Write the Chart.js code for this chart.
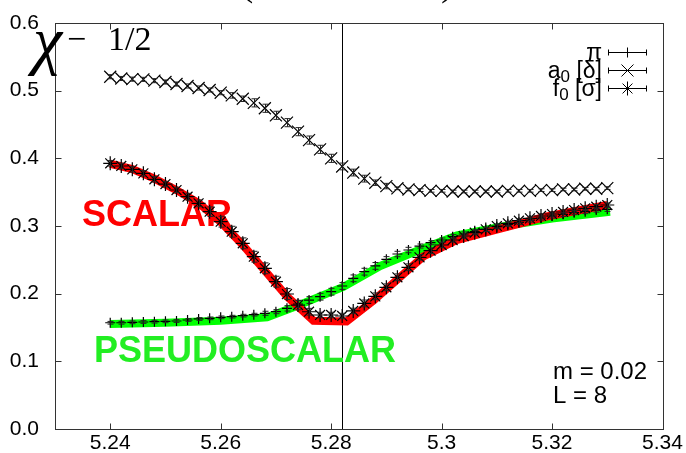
<!DOCTYPE html>
<html><head><meta charset="utf-8">
<script src="https://cdn.jsdelivr.net/npm/chart.js@4.4.1/dist/chart.umd.min.js"></script>
<style>html,body{margin:0;padding:0;background:#fff;}canvas{display:block;}</style>
</head><body>
<canvas id="c" width="686" height="453"></canvas>
<script>
const beta = [5.240,5.242,5.244,5.246,5.248,5.250,5.252,5.254,5.256,5.258,
              5.260,5.262,5.264,5.266,5.268,5.270,5.272,5.274,5.276,5.278,
              5.280,5.282,5.284,5.286,5.288,5.290,5.292,5.294,5.296,5.298,
              5.300,5.302,5.304,5.306,5.308,5.310,5.312,5.314,5.316,5.318,
              5.320,5.322,5.324,5.326,5.328,5.330];
const piVals = [0.157,0.157,0.1576,0.1581,0.1586,0.1591,0.1596,0.1611,0.1626,0.1635,
                0.165,0.166,0.1675,0.169,0.171,0.1734,0.1783,0.1847,0.1906,0.1955,
                0.2029,0.2113,0.2227,0.2325,0.241,0.2507,0.2586,0.2645,0.2704,0.2753,
                0.2793,0.2842,0.2882,0.2916,0.295,0.299,0.3025,0.3054,0.3088,0.3118,
                0.3148,0.3172,0.3197,0.3212,0.3236,0.3246];
const piErr = [0.002,0.002,0.002,0.002,0.002,0.002,0.002,0.002,0.002,0.002,
               0.002,0.002,0.002,0.002,0.003,0.003,0.004,0.005,0.005,0.005,
               0.005,0.005,0.005,0.005,0.005,0.004,0.004,0.004,0.003,0.003,
               0.003,0.003,0.003,0.003,0.003,0.003,0.003,0.003,0.003,0.003,
               0.003,0.003,0.003,0.003,0.003,0.003];
const a0Vals = [0.5206,0.518,0.517,0.5167,0.5148,0.5128,0.5098,0.5069,0.5039,0.501,
                0.497,0.493,0.488,0.482,0.474,0.4636,0.4527,0.4394,0.427,0.4133,
                0.400,0.388,0.379,0.370,0.364,0.359,0.3557,0.354,0.353,0.352,
                0.352,0.351,0.351,0.351,0.351,0.351,0.352,0.352,0.352,0.353,
                0.353,0.354,0.354,0.355,0.355,0.356];
const a0Err = [0.003,0.003,0.003,0.003,0.003,0.003,0.003,0.003,0.003,0.003,
               0.003,0.004,0.004,0.006,0.006,0.006,0.006,0.006,0.006,0.006,
               0.006,0.005,0.005,0.005,0.004,0.004,0.002,0.002,0.002,0.002,
               0.002,0.002,0.002,0.002,0.002,0.002,0.002,0.002,0.002,0.002,
               0.002,0.002,0.002,0.002,0.002,0.002];
const f0Vals = [0.3926,0.3887,0.3837,0.3778,0.369,0.362,0.3532,0.3433,0.3335,0.3212,
                0.3064,0.2916,0.2744,0.2546,0.2375,0.2177,0.1995,0.1832,0.1733,0.1685,
                0.1685,0.167,0.1745,0.1856,0.196,0.2094,0.2242,0.239,0.2537,0.2635,
                0.2719,0.2793,0.2852,0.2901,0.295,0.300,0.304,0.3078,0.3113,0.3148,
                0.3177,0.3207,0.3236,0.3261,0.3285,0.331];
const f0Err = [0.004,0.004,0.004,0.004,0.004,0.004,0.004,0.005,0.005,0.007,
               0.008,0.008,0.008,0.008,0.008,0.008,0.008,0.007,0.005,0.004,
               0.004,0.004,0.004,0.005,0.005,0.005,0.005,0.005,0.004,0.004,
               0.004,0.003,0.003,0.003,0.003,0.003,0.003,0.003,0.003,0.003,
               0.003,0.003,0.003,0.003,0.003,0.003];
const scalarBeta = [5.240,5.244,5.248,5.252,5.256,5.260,5.264,5.268,5.272,5.2768,5.2828,5.2877,5.2967,5.3027,5.3110,5.3190,5.3300];
const scalarVals = [0.392,0.384,0.370,0.353,0.334,0.306,0.272,0.234,0.196,0.160,0.159,0.190,0.255,0.279,0.297,0.314,0.331];
const pseudoBeta = [5.240,5.250,5.260,5.2684,5.2732,5.2822,5.2889,5.2967,5.3028,5.3100,5.3200,5.3305];
const pseudoVals = [0.155,0.157,0.160,0.165,0.180,0.210,0.241,0.267,0.286,0.298,0.311,0.321];
const xTicks = [5.24,5.26,5.28,5.30,5.32,5.34];
const xTickLabels = ['5.24','5.26','5.28','5.3','5.32','5.34'];
const yTicks = [0.0,0.1,0.2,0.3,0.4,0.5,0.6];
const yTickLabels = ['0.0','0.1','0.2','0.3','0.4','0.5','0.6'];
const betaC = 5.282;
const legendParts = [['π','',''],['a','0',' [δ]'],['f','0',' [σ]']];
const legendStyles = ['cross','crossRot','star'];
const legendRadii = [5,8.5,7];
const annotations = {scalar:'SCALAR', pseudo:'PSEUDOSCALAR', mass:'m = 0.02', size:'L = 8'};

const pts = (xs, ys) => xs.map((x, i) => ({x: x, y: ys[i]}));
const SANS = '"Liberation Sans", Arial, sans-serif';
const SERIF = '"Liberation Serif", "Times New Roman", serif';

function marker(ctx, style, x, y, r){
  ctx.beginPath();
  if (style === 'cross' || style === 'star'){
    ctx.moveTo(x - r, y); ctx.lineTo(x + r, y);
    ctx.moveTo(x, y - r); ctx.lineTo(x, y + r);
  }
  if (style === 'crossRot' || style === 'star'){
    const o = r * Math.SQRT1_2;
    ctx.moveTo(x - o, y - o); ctx.lineTo(x + o, y + o);
    ctx.moveTo(x - o, y + o); ctx.lineTo(x + o, y - o);
  }
  ctx.stroke();
}

const overlay = {
  id: 'overlay',
  beforeDatasetsDraw(chart){
    const {ctx, chartArea: a, scales: {x}} = chart;
    ctx.save();
    const xv = Math.round(x.getPixelForValue(betaC)) + 0.5;
    ctx.strokeStyle = '#000'; ctx.lineWidth = 1;
    ctx.beginPath(); ctx.moveTo(xv, a.top); ctx.lineTo(xv, a.bottom); ctx.stroke();
    ctx.textAlign = 'left'; ctx.textBaseline = 'alphabetic';
    ctx.font = 'bold 36px ' + SANS;
    ctx.fillStyle = '#ff0000';
    ctx.fillText(annotations.scalar, 82, 226);
    ctx.fillStyle = '#22ee22';
    ctx.fillText(annotations.pseudo, 94, 362);
    ctx.restore();
  },
  afterDatasetsDraw(chart){
    const {ctx, scales: {y}} = chart;
    ctx.save();
    ctx.strokeStyle = '#222'; ctx.lineWidth = 1;
    chart.data.datasets.forEach((ds, k) => {
      if (!ds.errors) return;
      const meta = chart.getDatasetMeta(k);
      meta.data.forEach((p, i) => {
        const v = ds.data[i].y, e = ds.errors[i];
        const t = y.getPixelForValue(v + e), b = y.getPixelForValue(v - e);
        const px = Math.round(p.x) + 0.5;
        ctx.beginPath();
        ctx.moveTo(px, t); ctx.lineTo(px, b);
        ctx.moveTo(px - 3, t); ctx.lineTo(px + 3, t);
        ctx.moveTo(px - 3, b); ctx.lineTo(px + 3, b);
        ctx.stroke();
      });
    });
    ctx.restore();
  },
  afterDraw(chart){
    const {ctx, chartArea: a, scales: {x, y}} = chart;
    ctx.save();
    ctx.strokeStyle = '#333'; ctx.lineWidth = 1;
    const L = Math.round(a.left) + 0.5, R = Math.round(a.right) + 0.5;
    const T = Math.round(a.top) + 0.5, B = Math.round(a.bottom) + 0.5;
    ctx.strokeRect(L, T, R - L, B - T);
    ctx.beginPath();
    xTicks.forEach(v => {
      const px = Math.round(x.getPixelForValue(v)) + 0.5;
      ctx.moveTo(px, B); ctx.lineTo(px, B - 6);
      ctx.moveTo(px, T); ctx.lineTo(px, T + 6);
    });
    yTicks.forEach(v => {
      const py = Math.round(y.getPixelForValue(v)) + 0.5;
      ctx.moveTo(L, py); ctx.lineTo(L + 6, py);
      ctx.moveTo(R, py); ctx.lineTo(R - 6, py);
    });
    ctx.stroke();
    ctx.fillStyle = '#000';
    ctx.textAlign = 'left'; ctx.textBaseline = 'alphabetic';
    ctx.font = 'italic 66px ' + SERIF;
    ctx.fillText('χ', 33, 62);
    ctx.font = '34px ' + SERIF;
    ctx.fillText('−', 67, 50);
    ctx.fillText('1/2', 108, 50);
    ctx.font = '40px ' + SERIF;
    ctx.fillText('(', 240, -5);
    ctx.fillText(')', 441, -5);
    ctx.font = '24px ' + SANS;
    ctx.fillText(annotations.mass, 553, 379);
    ctx.fillText(annotations.size, 553, 403);
    const rowY = [52, 70, 88];
    legendParts.forEach((parts, r) => {
      const yy = rowY[r];
      ctx.font = '23px ' + SANS;
      const w0 = ctx.measureText(parts[0]).width;
      const w2 = ctx.measureText(parts[2]).width;
      ctx.font = '17px ' + SANS;
      const w1 = parts[1] ? ctx.measureText(parts[1]).width : 0;
      let xx = 602 - (w0 + w1 + w2);
      ctx.font = '23px ' + SANS;
      ctx.fillText(parts[0], xx, yy + 8); xx += w0;
      if (parts[1]){ ctx.font = '17px ' + SANS; ctx.fillText(parts[1], xx, yy + 12); xx += w1; }
      ctx.font = '23px ' + SANS;
      ctx.fillText(parts[2], xx, yy + 8);
      ctx.strokeStyle = '#000'; ctx.lineWidth = 1;
      const py = yy + 0.5;
      ctx.beginPath();
      ctx.moveTo(608, py); ctx.lineTo(647, py);
      ctx.moveTo(608.5, py - 3); ctx.lineTo(608.5, py + 3);
      ctx.moveTo(646.5, py - 3); ctx.lineTo(646.5, py + 3);
      ctx.stroke();
      marker(ctx, legendStyles[r], 627.5, py, legendRadii[r]);
    });
    ctx.restore();
  }
};

new Chart(document.getElementById('c'), {
  type: 'scatter',
  data: {
    datasets: [
      {label: 'π', data: pts(beta, piVals), errors: piErr, pointStyle: 'cross', pointRadius: 5,
       borderColor: '#000', backgroundColor: '#000', pointBorderWidth: 1.2, showLine: false, order: 0},
      {label: 'a0 [δ]', data: pts(beta, a0Vals), errors: a0Err, pointStyle: 'crossRot', pointRadius: 8.5,
       borderColor: '#000', backgroundColor: '#000', pointBorderWidth: 1.2, showLine: false, order: 0},
      {label: 'f0 [σ]', data: pts(beta, f0Vals), errors: f0Err, pointStyle: 'star', pointRadius: 7,
       borderColor: '#000', backgroundColor: '#000', pointBorderWidth: 1.2, showLine: false, order: 0},
      {label: 'SCALAR', data: pts(scalarBeta, scalarVals), showLine: true, borderColor: '#ff0000',
       borderWidth: 8, pointRadius: 0, order: 5},
      {label: 'PSEUDOSCALAR', data: pts(pseudoBeta, pseudoVals), showLine: true, borderColor: '#00ff00',
       borderWidth: 8, pointRadius: 0, order: 6}
    ]
  },
  options: {
    responsive: false, animation: false, devicePixelRatio: 1,
    layout: {padding: {top: 23, right: 23.5, left: 0, bottom: 0}},
    plugins: {legend: {display: false}, tooltip: {enabled: false}},
    scales: {
      x: {type: 'linear', min: 5.23, max: 5.34,
          afterBuildTicks: s => { s.ticks = xTicks.map(v => ({value: v})); },
          afterFit: s => { s.height = 24; },
          grid: {display: false}, border: {display: false},
          ticks: {callback: (v, i) => xTickLabels[i], color: '#000', padding: -6, maxRotation: 0, autoSkip: false,
                  font: {family: SANS, size: 21}}},
      y: {type: 'linear', min: 0, max: 0.6,
          afterBuildTicks: s => { s.ticks = yTicks.map(v => ({value: v})); },
          afterFit: s => { s.width = 55; },
          grid: {display: false}, border: {display: false},
          ticks: {callback: (v, i) => yTickLabels[i], color: '#000', padding: 8, autoSkip: false,
                  font: {family: SANS, size: 21}}}
    }
  },
  plugins: [overlay]
});
</script>
</body></html>
